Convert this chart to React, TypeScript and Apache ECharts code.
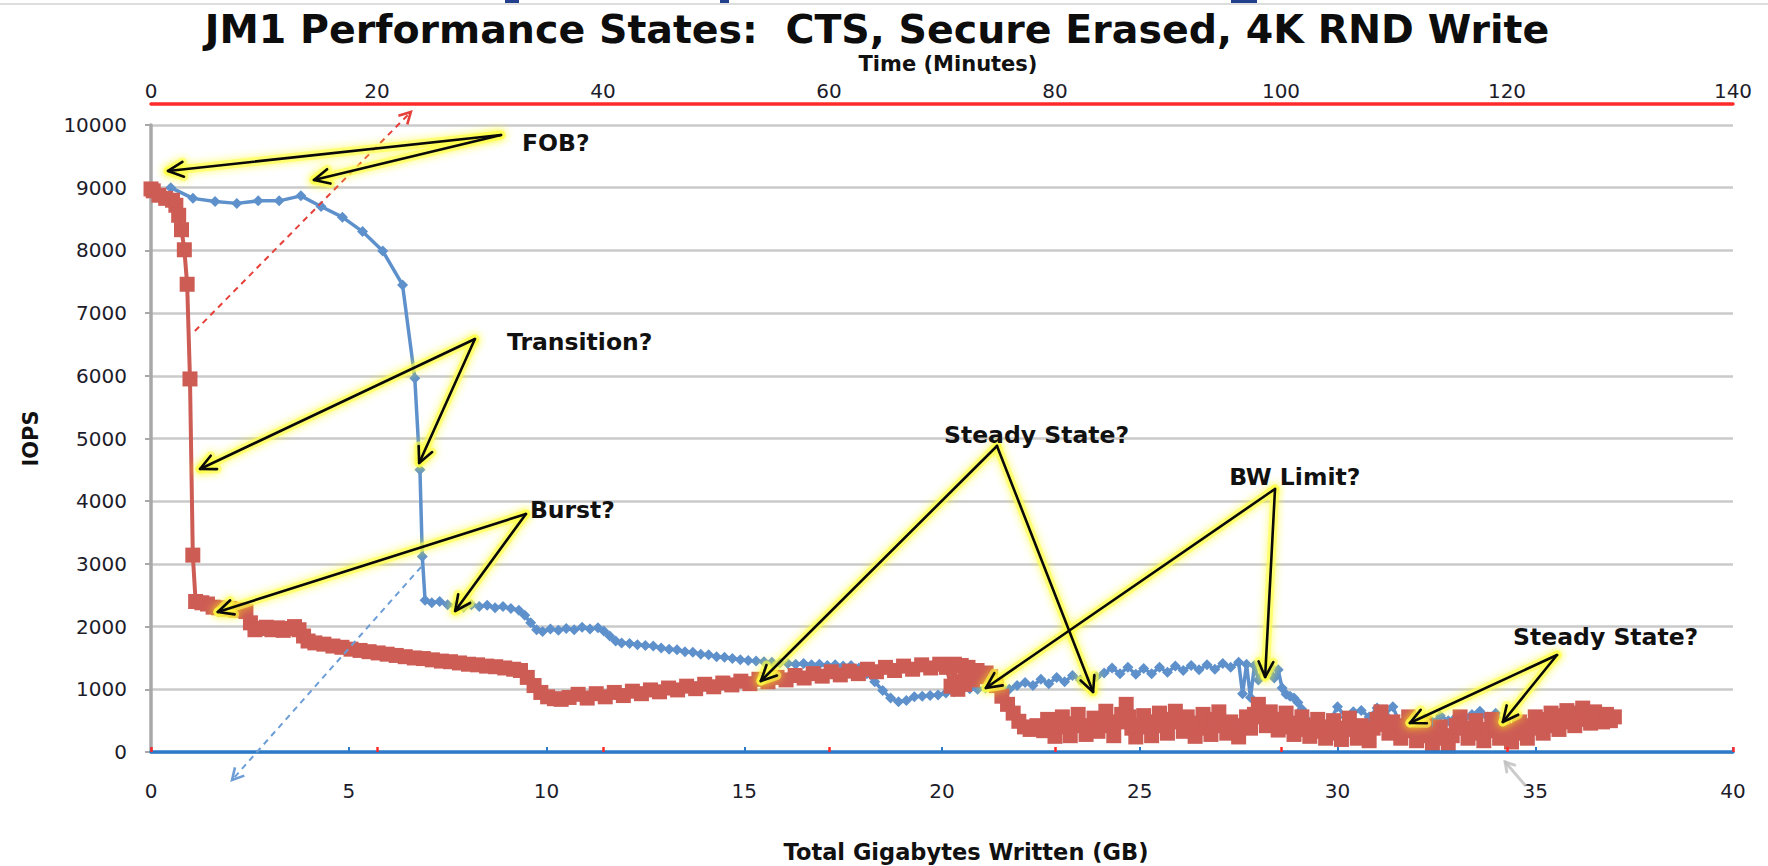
import React, { useEffect, useRef } from "react";
import * as echarts from "echarts";

const TITLE = "JM1 Performance States:  CTS, Secure Erased, 4K RND Write";
const TOP_AXIS_NAME = "Time (Minutes)";
const X_AXIS_NAME = "Total Gigabytes Written (GB)";
const Y_AXIS_NAME = "IOPS";

const GB_RANGE = [0, 40];
const GB_INTERVAL = 5;
const MIN_RANGE = [0, 140];
const MIN_INTERVAL = 20;
const IOPS_RANGE = [0, 10000];
const IOPS_INTERVAL = 1000;

// Blue series: IOPS vs total GB written (bottom axis)
const blueGB: [number, number][] = [
  [0.5, 9000], [1.06, 8830], [1.62, 8780], [2.17, 8750], [2.71, 8790], [3.24, 8790], [3.79, 8870], [4.3, 8700],
  [4.84, 8530], [5.35, 8300], [5.86, 7990], [6.36, 7450], [6.67, 5960], [6.8, 4500], [6.86, 3120], [6.93, 2420],
  [7.1, 2380], [7.3, 2400], [7.5, 2350], [7.7, 2330], [7.9, 2310], [8.1, 2350], [8.3, 2320], [8.5, 2340],
  [8.7, 2300], [8.9, 2320], [9.1, 2290], [9.3, 2260], [9.45, 2180], [9.6, 2060], [9.75, 1950], [9.9, 1920],
  [10.1, 1960], [10.3, 1940], [10.5, 1970], [10.7, 1950], [10.9, 1990], [11.1, 1960], [11.3, 1980], [11.45, 1930],
  [11.6, 1850], [11.75, 1770], [11.9, 1740], [12.1, 1730], [12.3, 1710], [12.5, 1700], [12.7, 1690], [12.9, 1660],
  [13.1, 1640], [13.3, 1630], [13.5, 1600], [13.7, 1590], [13.9, 1560], [14.1, 1550], [14.3, 1520], [14.5, 1510],
  [14.7, 1490], [14.9, 1470], [15.1, 1460], [15.3, 1450], [15.5, 1440], [15.7, 1430], [15.9, 1420], [16.1, 1410],
  [16.3, 1400], [16.5, 1410], [16.7, 1390], [16.9, 1400], [17.1, 1380], [17.3, 1390], [17.5, 1370], [17.7, 1380],
  [17.9, 1340], [18.1, 1250], [18.3, 1120], [18.5, 980], [18.7, 860], [18.9, 800], [19.1, 820], [19.3, 880],
  [19.5, 890], [19.7, 900], [19.9, 910], [20.1, 940], [20.3, 960], [20.5, 990], [20.7, 1010], [20.9, 1000],
  [21.1, 1020], [21.3, 1060], [21.5, 1030], [21.7, 1000], [21.9, 1060], [22.1, 1110], [22.3, 1060], [22.5, 1160],
  [22.7, 1090], [22.9, 1190], [23.1, 1120], [23.3, 1220], [23.5, 1150], [23.7, 1120], [23.9, 1200], [24.1, 1260],
  [24.3, 1340], [24.5, 1250], [24.7, 1350], [24.9, 1240], [25.1, 1330], [25.3, 1250], [25.5, 1350], [25.7, 1270],
  [25.9, 1370], [26.1, 1300], [26.3, 1380], [26.5, 1310], [26.7, 1390], [26.9, 1320], [27.1, 1410], [27.3, 1350],
  [27.5, 1430], [27.6, 930], [27.7, 1400], [27.8, 870], [27.9, 1380], [28.0, 1150], [28.1, 1320], [28.2, 1240],
  [28.3, 1360], [28.4, 1180], [28.5, 1310], [28.6, 1020], [28.7, 920], [28.8, 890], [28.9, 860], [29.0, 790],
  [29.1, 680], [29.25, 500], [29.4, 350], [29.6, 300], [29.8, 480], [30.0, 720], [30.2, 560], [30.4, 640],
  [30.6, 660], [30.8, 560], [31.0, 700], [31.2, 600], [31.4, 720], [31.6, 420], [31.8, 560], [32.0, 460],
  [32.2, 540], [32.4, 480], [32.6, 580], [32.8, 500], [33.0, 560], [33.2, 530], [33.4, 600], [33.6, 650],
  [33.8, 560], [34.0, 620], [34.2, 460],
];

// Red series: IOPS vs time in minutes (top axis)
const redMinutes: [number, number][] = [
  [0, 8980], [0.2, 8950], [0.7, 8880], [1.3, 8830], [1.9, 8800], [2.2, 8720], [2.45, 8560], [2.7, 8330],
  [2.95, 8010], [3.2, 7460], [3.45, 5950], [3.7, 3140], [3.95, 2400],
  [4.5, 2380], [5.0, 2360], [5.5, 2310], [6.0, 2300], [6.5, 2280], [7.0, 2290], [7.5, 2260], [8.0, 2270],
  [8.4, 2240], [8.8, 2060], [9.2, 1950], [9.7, 1970], [10.2, 1990], [10.7, 1950], [11.2, 1980], [11.7, 1940],
  [12.2, 1970], [12.7, 2000], [13.1, 1950], [13.5, 1850], [13.9, 1770],
  [14.5, 1740], [15.3, 1720], [16.1, 1690], [16.9, 1670], [17.7, 1640], [18.5, 1620], [19.3, 1600], [20.1, 1580],
  [20.9, 1560], [21.7, 1540], [22.5, 1520], [23.3, 1500], [24.1, 1490], [24.9, 1470], [25.7, 1450], [26.5, 1440],
  [27.3, 1420], [28.1, 1400], [28.9, 1390], [29.7, 1370], [30.5, 1360], [31.3, 1340], [32.1, 1320], [32.7, 1300],
  [33.3, 1190], [33.9, 1060], [34.5, 950], [35.1, 880], [35.7, 850], [36.3, 840],
  [37.0, 870], [37.8, 920], [38.6, 860], [39.4, 930], [40.2, 880], [41.0, 950], [41.8, 900], [42.6, 970],
  [43.4, 930], [44.2, 990], [45.0, 960], [45.8, 1020], [46.6, 990], [47.4, 1050], [48.2, 1010], [49.0, 1080],
  [49.8, 1040], [50.6, 1100], [51.4, 1070], [52.2, 1130], [53.0, 1090], [53.8, 1160], [54.6, 1120], [55.4, 1190],
  [56.2, 1150], [57.0, 1220], [57.8, 1180], [58.6, 1250], [59.4, 1210], [60.2, 1280], [61.0, 1230], [61.8, 1290],
  [62.6, 1250], [63.4, 1320], [64.2, 1280], [65.0, 1350], [65.8, 1300], [66.6, 1370], [67.4, 1320], [68.2, 1390],
  [69.0, 1340], [69.8, 1400],
  [70.4, 1350], [70.8, 1050], [71.1, 1400], [71.4, 1000], [71.7, 1380], [72.0, 1080], [72.3, 1350], [72.7, 1150],
  [73.1, 1300], [73.5, 1200], [73.9, 1260], [74.3, 1200],
  [74.8, 1060], [75.3, 890], [75.8, 760], [76.3, 620], [76.8, 490], [77.3, 400], [77.8, 360], [78.4, 420],
  [79.0, 340], [79.35, 520], [79.6, 380], [80.0, 250], [80.3, 420], [80.65, 560], [81.0, 400], [81.35, 260],
  [81.7, 450], [82.05, 600], [82.4, 420], [82.75, 280], [83.1, 380], [83.45, 540], [83.8, 330], [84.15, 500],
  [84.5, 650], [84.85, 420], [85.2, 260], [85.55, 480], [85.9, 600], [86.3, 760], [86.55, 560], [86.8, 380],
  [87.15, 240], [87.5, 420], [87.85, 580], [88.2, 400], [88.55, 260], [88.9, 480], [89.25, 620], [89.6, 420],
  [89.95, 300], [90.3, 520], [90.65, 650], [91.0, 480], [91.35, 330], [91.7, 560], [92.05, 400], [92.4, 250],
  [92.75, 460], [93.1, 600], [93.45, 380], [93.8, 280], [94.15, 520], [94.5, 640], [94.85, 420], [95.2, 300],
  [95.55, 480], [95.9, 360], [96.25, 240], [96.6, 420], [96.95, 560], [97.3, 380], [97.65, 600], [98.0, 760],
  [98.35, 560], [98.7, 420], [99.05, 640], [99.4, 500], [99.75, 350], [100.1, 520], [100.45, 620], [100.8, 400],
  [101.15, 280], [101.5, 460], [101.85, 560], [102.2, 360], [102.55, 250], [102.9, 420], [103.25, 520], [103.6, 330],
  [103.95, 220], [104.3, 400], [104.65, 500], [105.0, 300], [105.35, 200], [105.7, 380], [106.05, 540], [106.4, 360],
  [106.75, 220], [107.1, 420], [107.45, 300], [107.8, 180], [108.15, 380], [108.5, 520], [108.85, 640], [109.2, 440],
  [109.55, 300], [109.9, 480], [110.25, 360], [110.6, 220], [110.95, 420], [111.3, 560], [111.65, 340], [112.0, 180],
  [112.35, 320], [112.7, 460], [113.05, 260], [113.4, 120], [113.75, 280], [114.1, 400], [114.45, 220], [114.8, 100],
  [115.15, 260], [115.5, 420], [115.85, 560], [116.2, 380], [116.55, 220], [116.9, 360], [117.25, 500], [117.6, 300],
  [117.95, 180], [118.3, 360], [118.65, 520], [119.0, 340], [119.35, 220], [119.7, 400], [120.05, 280], [120.4, 160],
  [120.75, 340], [121.1, 480], [121.45, 300], [121.8, 220], [122.15, 420], [122.5, 560], [122.85, 380], [123.2, 300],
  [123.55, 520], [123.9, 620], [124.25, 420], [124.6, 360], [124.95, 580], [125.3, 660], [125.65, 480], [126.0, 420],
  [126.35, 620], [126.7, 700], [127.05, 520], [127.4, 460], [127.75, 640], [128.1, 560], [128.45, 480], [128.8, 600],
  [129.15, 500], [129.5, 560],
];

// Annotations in (GB, IOPS) coordinates
type P = [number, number];
const annotations: { label: string; text: P; tail: P; heads: P[] }[] = [
  { label: "FOB?", text: [9.38, 9713], tail: [8.85, 9841], heads: [[0.43, 9267], [4.12, 9123]] },
  { label: "Transition?", text: [9.0, 6540], tail: [8.19, 6587], heads: [[1.24, 4514], [6.78, 4610]] },
  { label: "Burst?", text: [9.58, 3860], tail: [9.48, 3796], heads: [[1.69, 2233], [7.69, 2249]] },
  { label: "Steady State?", text: [20.05, 5056], tail: [21.39, 4881], heads: [[15.42, 1132], [23.82, 957]] },
  { label: "BW Limit?", text: [27.26, 4386], tail: [28.42, 4195], heads: [[21.11, 1021], [28.17, 1196]] },
  { label: "Steady State?", text: [34.44, 1834], tail: [35.55, 1547], heads: [[31.83, 463], [34.18, 479]] },
];
const dashedArrows: { series: string; from: P; to: P }[] = [
  { series: "red", from: [1.11, 6715], to: [6.57, 10208] },
  { series: "blue", from: [6.83, 2951], to: [2.05, -447] },
];
const faintArrow: { from: P; to: P } = { from: [34.74, -526], to: [34.24, -160] };

const FONT = "'DejaVu Sans', 'Open Sans', sans-serif";
const BLUE = "#5E91CB";
const RED = "#CD5C55";
const LABEL = "#1c1c2a";

function arrowHead(from: number[], to: number[], len: number, ang: number): number[][] {
  const dx = from[0] - to[0];
  const dy = from[1] - to[1];
  const d = Math.hypot(dx, dy) || 1;
  const ux = dx / d, uy = dy / d;
  const rot = (a: number) => [
    to[0] + len * (ux * Math.cos(a) - uy * Math.sin(a)),
    to[1] + len * (ux * Math.sin(a) + uy * Math.cos(a)),
  ];
  return [rot(ang), [to[0], to[1]], rot(-ang)];
}

export default function App() {
  const ref = useRef<HTMLDivElement>(null);
  useEffect(() => {
    const el = ref.current!;
    const chart = echarts.init(el, null, { renderer: "svg" });
    const option: any = {
      animation: false,
      backgroundColor: "#ffffff",
      textStyle: { fontFamily: FONT },
      grid: { left: 151, right: 35, top: 125, bottom: 114, containLabel: false },
      xAxis: [
        {
          type: "value", position: "bottom", min: GB_RANGE[0], max: GB_RANGE[1], interval: GB_INTERVAL,
          axisLine: { show: true, onZero: false, lineStyle: { color: "#2B7BC8", width: 3.5 } },
          axisTick: { show: true, inside: true, length: 5, lineStyle: { color: "#2B7BC8", width: 2 } },
          axisLabel: { fontSize: 20, color: LABEL, margin: 29, fontFamily: FONT },
          splitLine: { show: false },
          z: 5,
        },
        {
          type: "value", position: "top", offset: 21, min: MIN_RANGE[0], max: MIN_RANGE[1], interval: MIN_INTERVAL,
          axisLine: { show: true, onZero: false, lineStyle: { color: "#FF2A2A", width: 3.5 } },
          axisTick: { show: false },
          axisLabel: { fontSize: 20, color: LABEL, margin: 3, fontFamily: FONT },
          splitLine: { show: false },
          name: TOP_AXIS_NAME, nameLocation: "middle", nameGap: 30,
          nameTextStyle: { fontSize: 21, fontWeight: "bold", color: "#111", fontFamily: FONT, padding: [0, 0, 0, 12] },
        },
        {
          type: "value", position: "bottom", min: MIN_RANGE[0], max: MIN_RANGE[1], interval: MIN_INTERVAL,
          axisLine: { show: false, onZero: false },
          axisTick: { show: true, inside: true, length: 5, lineStyle: { color: "#FF2A2A", width: 2.5 } },
          axisLabel: { show: false },
          splitLine: { show: false },
          z: 6,
        },
      ],
      yAxis: {
        type: "value", min: IOPS_RANGE[0], max: IOPS_RANGE[1], interval: IOPS_INTERVAL,
        axisLine: { show: true, lineStyle: { color: "#A8A8A8", width: 3.5 } },
        axisTick: { show: true, length: 6, lineStyle: { color: "#A8A8A8", width: 2 } },
        axisLabel: { fontSize: 20, color: LABEL, margin: 24, fontFamily: FONT, formatter: (v: number) => String(v) },
        splitLine: { show: true, lineStyle: { color: "#CACACA", width: 2.5 } },
        name: Y_AXIS_NAME, nameLocation: "middle", nameGap: 110, nameRotate: 90,
        nameTextStyle: { fontSize: 21, fontWeight: "bold", color: "#111", fontFamily: FONT },
      },
      series: [
        {
          name: "Blue (GB)", type: "line", xAxisIndex: 0, yAxisIndex: 0, data: blueGB,
          symbol: "diamond", symbolSize: 11, showSymbol: true, showAllSymbol: true,
          lineStyle: { color: BLUE, width: 3.5 }, itemStyle: { color: BLUE },
          z: 3, clip: false,
        },
        {
          name: "Red (minutes)", type: "line", xAxisIndex: 1, yAxisIndex: 0, data: redMinutes,
          symbol: "rect", symbolSize: 15, showSymbol: true, showAllSymbol: true,
          lineStyle: { color: RED, width: 4 }, itemStyle: { color: RED },
          z: 4, clip: false,
        },
      ],
    };
    chart.setOption(option);

    const toPx = (p: P) => chart.convertToPixel({ xAxisIndex: 0, yAxisIndex: 0 }, p) as unknown as number[];
    const els: any[] = [];
    // top page artifacts
    els.push({ type: "line", z: 1, shape: { x1: 0, y1: 4, x2: 1768, y2: 4 }, style: { stroke: "#dddddd", lineWidth: 2 } });
    els.push({ type: "rect", z: 1, shape: { x: 505, y: 0, width: 14, height: 3 }, style: { fill: "#23408e" } });
    els.push({ type: "rect", z: 1, shape: { x: 720, y: 0, width: 9, height: 3 }, style: { fill: "#23408e" } });
    els.push({ type: "rect", z: 1, shape: { x: 1231, y: 0, width: 26, height: 3 }, style: { fill: "#23408e" } });

    // titles
    els.push({
      type: "text", z: 30, x: 877, y: 29,
      style: { text: TITLE, fontSize: 39.5, fontWeight: "bold", fontFamily: FONT, fill: "#0d0d0d", align: "center", verticalAlign: "middle", textAlign: "center", textVerticalAlign: "middle" },
    });
    els.push({
      type: "text", z: 30, x: 966, y: 852,
      style: { text: X_AXIS_NAME, fontSize: 22.5, fontWeight: "bold", fontFamily: FONT, fill: "#111", align: "center", verticalAlign: "middle", textAlign: "center", textVerticalAlign: "middle" },
    });

    const glowStyle = { stroke: "rgba(255,255,70,0.6)", lineWidth: 9, lineCap: "round", lineJoin: "round", shadowBlur: 8, shadowColor: "rgba(255,250,0,0.9)" };
    const blackStyle = { stroke: "#0a0a0a", lineWidth: 2.6, lineCap: "round", lineJoin: "round", fill: null };

    annotations.forEach((a) => {
      const t = toPx(a.tail);
      a.heads.forEach((h) => {
        const hp = toPx(h);
        const head = arrowHead(t, hp, 17, 0.45);
        els.push({ type: "line", z: 20, shape: { x1: t[0], y1: t[1], x2: hp[0], y2: hp[1] }, style: glowStyle });
        els.push({ type: "polyline", z: 20, shape: { points: head }, style: glowStyle });
      });
      a.heads.forEach((h) => {
        const hp = toPx(h);
        const head = arrowHead(t, hp, 17, 0.45);
        els.push({ type: "line", z: 21, shape: { x1: t[0], y1: t[1], x2: hp[0], y2: hp[1] }, style: blackStyle });
        els.push({ type: "polyline", z: 21, shape: { points: head }, style: blackStyle });
      });
      const tp = toPx(a.text);
      els.push({
        type: "text", z: 22, x: tp[0], y: tp[1],
        style: { text: a.label, fontSize: 23.5, fontWeight: "bold", fontFamily: FONT, fill: "#111", align: "left", verticalAlign: "middle", textAlign: "left", textVerticalAlign: "middle" },
      });
    });

    dashedArrows.forEach((d) => {
      const f = toPx(d.from);
      const t = toPx(d.to);
      const color = d.series === "red" ? "#E5413A" : "#6C9DD6";
      els.push({ type: "line", z: 19, shape: { x1: f[0], y1: f[1], x2: t[0], y2: t[1] }, style: { stroke: color, lineWidth: 2, lineDash: [6, 5] } });
      els.push({ type: "polyline", z: 19, shape: { points: arrowHead(f, t, 13, 0.5) }, style: { stroke: color, lineWidth: 2.6, fill: null } });
    });

    {
      const f = toPx(faintArrow.from);
      const t = toPx(faintArrow.to);
      const st = { stroke: "rgba(190,190,190,0.8)", lineWidth: 3, fill: null, lineCap: "round" };
      els.push({ type: "line", z: 18, shape: { x1: f[0], y1: f[1], x2: t[0], y2: t[1] }, style: st });
      els.push({ type: "polyline", z: 18, shape: { points: arrowHead(f, t, 10, 0.55) }, style: st });
    }

    chart.setOption({ graphic: { elements: els } });
    return () => chart.dispose();
  }, []);
  return (
    <div
      ref={ref}
      style={{ position: "fixed", left: 0, top: 0, width: 1768, height: 866, background: "#fff" }}
    />
  );
}
